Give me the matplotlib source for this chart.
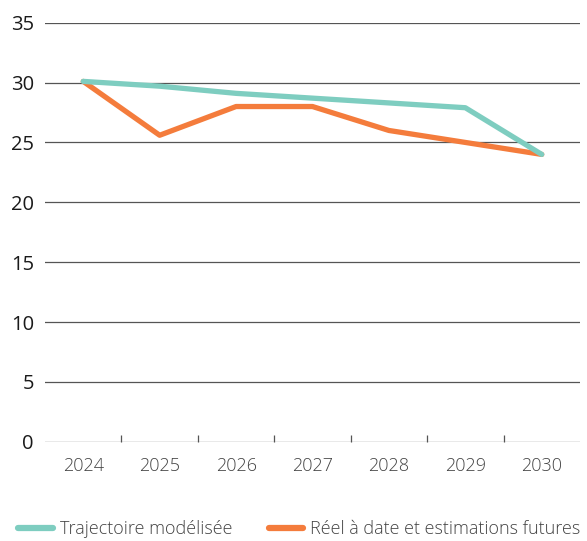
import matplotlib.pyplot as plt
from matplotlib.lines import Line2D

years = ['2024', '2025', '2026', '2027', '2028', '2029', '2030']
trajectoire = [30.1, 29.7, 29.1, 28.7, 28.3, 27.9, 24.0]
reel = [30.1, 25.6, 28.0, 28.0, 26.0, 25.0, 24.0]
yticks = [0, 5, 10, 15, 20, 25, 30, 35]

teal = '#7ECDC0'
orange = '#F47C3C'

plt.rcParams['font.family'] = ['Open Sans', 'DejaVu Sans']

fig = plt.figure(figsize=(5.87, 5.41), dpi=100)
ax = fig.add_axes([0.0767, 0.1835, 0.9113, 0.7745])

x = list(range(len(years)))
ax.plot(x, trajectoire, color=teal, linewidth=3.8, solid_capstyle='round', zorder=3)
ax.plot(x, reel, color=orange, linewidth=3.8, solid_capstyle='round', zorder=2)

ax.set_xlim(-0.5, len(years) - 0.5)
ax.set_ylim(0, 35)
ax.set_yticks(yticks)
ax.set_yticklabels([str(v) for v in yticks], fontsize=14.5, color='#1a1a1a')
ax.tick_params(axis='y', length=0, pad=8)
for v in yticks:
    ax.axhline(v, color='#555555', linewidth=0.9, zorder=1)

# category ticks sit between the years
ax.set_xticks([i + 0.5 for i in range(len(years) - 1)], minor=True)
ax.set_xticks(x)
ax.set_xticklabels(years, fontsize=13, color='#444444', fontweight='light')
ax.tick_params(axis='x', which='major', length=0, pad=11)
ax.tick_params(axis='x', which='minor', length=5, direction='in', color='#555555', width=0.9)

for s in ax.spines.values():
    s.set_visible(False)

handles = [
    Line2D([0], [0], color=teal, linewidth=4.5, solid_capstyle='round'),
    Line2D([0], [0], color=orange, linewidth=4.5, solid_capstyle='round'),
]
fig.legend(handles, ['Trajectoire modélisée', 'Réel à date et estimations futures'],
           loc='lower center', bbox_to_anchor=(0.51, -0.025), ncol=2, frameon=False,
           prop={'size': 13, 'weight': 'light'}, handlelength=1.9, columnspacing=2.0,
           handletextpad=0.4, labelcolor='#444444')

fig.savefig('out.png', dpi=100)
